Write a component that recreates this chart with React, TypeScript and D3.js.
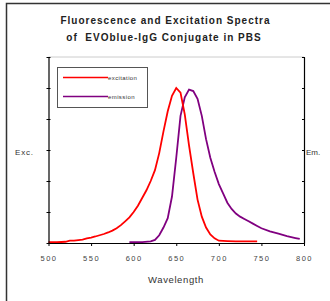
import React, { useRef, useEffect } from 'react';
import * as d3 from 'd3';

const excWavelength = [500, 510, 520, 525, 530, 540, 545, 550, 555, 560, 565, 570, 575, 580, 585, 590, 595, 600, 605, 610, 615, 620, 625, 630, 635, 640, 645, 650, 655, 660, 665, 670, 675, 680, 685, 690, 695, 700, 710, 720, 730, 745];
const excValue = [0.005, 0.005, 0.008, 0.015, 0.015, 0.022, 0.03, 0.035, 0.042, 0.05, 0.058, 0.068, 0.08, 0.095, 0.115, 0.14, 0.165, 0.2, 0.24, 0.29, 0.34, 0.4, 0.47, 0.58, 0.72, 0.85, 0.95, 1.0, 0.97, 0.83, 0.63, 0.45, 0.28, 0.17, 0.1, 0.055, 0.03, 0.015, 0.012, 0.01, 0.01, 0.01];

const emWavelength = [595, 610, 620, 625, 630, 635, 640, 645, 650, 655, 660, 665, 670, 675, 680, 685, 690, 695, 700, 705, 710, 715, 720, 725, 730, 735, 740, 745, 750, 760, 770, 780, 790, 795];
const emValue = [0.005, 0.006, 0.01, 0.02, 0.05, 0.1, 0.16, 0.3, 0.55, 0.82, 0.94, 0.99, 0.98, 0.93, 0.82, 0.67, 0.55, 0.46, 0.38, 0.32, 0.26, 0.22, 0.19, 0.17, 0.155, 0.14, 0.125, 0.11, 0.095, 0.075, 0.06, 0.045, 0.032, 0.026];

const xTicks = [500, 550, 600, 650, 700, 750, 800];
const yTicks = [0, 0.2, 0.4, 0.6, 0.8, 1.0, 1.2];
const titleLines = ['Fluorescence and Excitation Spectra', 'of  EVOblue-IgG Conjugate in PBS'];

const App = () => {
    const svgRef = useRef(null);
    const width = 330;
    const height = 301;

    useEffect(() => {
        const svg = d3.select(svgRef.current);
        svg.selectAll('*').remove();
        const font = 'Liberation Sans, Arial, sans-serif';

        const x = d3.scaleLinear().domain([500, 800]).range([48.5, 304]);
        const y = d3.scaleLinear().domain([0, 1.2]).range([243, 57]);

        // outer frame
        svg.append('path')
            .attr('d', `M6.5,${height} V3.5 H${width}`)
            .attr('fill', 'none')
            .attr('stroke', '#333')
            .attr('stroke-width', 1.5);

        // title
        svg.selectAll('text.title')
            .data(titleLines)
            .enter()
            .append('text')
            .attr('x', (d, i) => (i === 0 ? 165.5 : 164))
            .attr('y', (d, i) => 24 + i * 17)
            .attr('text-anchor', 'middle')
            .attr('font-family', font)
            .attr('font-weight', 'bold')
            .attr('font-size', 10)
            .attr('letter-spacing', 1)
            .attr('fill', '#222')
            .style('white-space', 'pre')
            .text(d => d);

        // plot frame top
        svg.append('line')
            .attr('x1', x(500)).attr('x2', x(800))
            .attr('y1', y(1.2)).attr('y2', y(1.2))
            .attr('stroke', '#ccc');

        const line = d3.line()
            .x(d => x(d[0]))
            .y(d => y(d[1]));

        const excData = excWavelength.map((w, i) => [w, excValue[i]]);
        const emData = emWavelength.map((w, i) => [w, emValue[i]]);

        svg.append('path')
            .datum(emData)
            .attr('fill', 'none')
            .attr('stroke', '#800080')
            .attr('stroke-width', 1.8)
            .attr('d', line);

        svg.append('path')
            .datum(excData)
            .attr('fill', 'none')
            .attr('stroke', '#ff0000')
            .attr('stroke-width', 1.8)
            .attr('d', line);

        // axes
        const xAxis = svg.append('g')
            .attr('transform', `translate(0,${y(0)})`)
            .call(d3.axisBottom(x).tickValues(xTicks).tickSize(3).tickSizeOuter(0).tickPadding(10));
        xAxis.select('.domain').attr('stroke', '#000').attr('stroke-width', 1.2);
        xAxis.selectAll('text')
            .attr('font-family', font)
            .attr('font-size', 7.5)
            .attr('letter-spacing', 1.5)
            .attr('fill', '#444');

        const leftAxis = svg.append('g')
            .attr('transform', `translate(${x(500)},0)`)
            .call(d3.axisLeft(y).tickValues(yTicks).tickSize(2).tickSizeOuter(0).tickFormat(() => ''));
        leftAxis.select('.domain').attr('stroke', '#000').attr('stroke-width', 1.2);
        leftAxis.selectAll('.tick line').attr('x2', -2).attr('x1', 2);

        const rightAxis = svg.append('g')
            .attr('transform', `translate(${x(800)},0)`)
            .call(d3.axisRight(y).tickValues(yTicks).tickSize(2).tickSizeOuter(0).tickFormat(() => ''));
        rightAxis.select('.domain').attr('stroke', '#000').attr('stroke-width', 1.2);
        rightAxis.selectAll('.tick line').attr('x1', -2).attr('x2', 1);

        // axis titles
        svg.append('text')
            .attr('x', 176).attr('y', 283)
            .attr('text-anchor', 'middle')
            .attr('font-family', font)
            .attr('font-size', 9.5)
            .attr('letter-spacing', 0.6)
            .attr('fill', '#333')
            .text('Wavelength');

        svg.append('text')
            .attr('x', 15).attr('y', 155)
            .attr('font-family', font)
            .attr('font-size', 8)
            .attr('letter-spacing', 0.8)
            .attr('fill', '#333')
            .text('Exc.');

        svg.append('text')
            .attr('x', 306).attr('y', 155)
            .attr('font-family', font)
            .attr('font-size', 8)
            .attr('fill', '#333')
            .text('Em.');

        // legend
        const legend = svg.append('g');
        legend.append('rect')
            .attr('x', 57.5).attr('y', 67.5)
            .attr('width', 90).attr('height', 40)
            .attr('fill', '#fff')
            .attr('stroke', '#555');
        const items = [['excitation', '#ff0000'], ['emission', '#800080']];
        items.forEach(([label, color], i) => {
            const ly = 77.5 + i * 19;
            legend.append('line')
                .attr('x1', 63).attr('x2', 108)
                .attr('y1', ly).attr('y2', ly)
                .attr('stroke', color)
                .attr('stroke-width', 1.7);
            legend.append('text')
                .attr('x', 108).attr('y', ly + 2)
                .attr('font-family', font)
                .attr('font-size', 6)
                .attr('letter-spacing', 0.4)
                .attr('fill', '#333')
                .text(label);
        });
    }, []);

    return (
        <svg
            ref={svgRef}
            width={width}
            height={height}
            style={{ position: 'absolute', left: 0, top: 0, background: '#fff' }}
        />
    );
};

export default App;
